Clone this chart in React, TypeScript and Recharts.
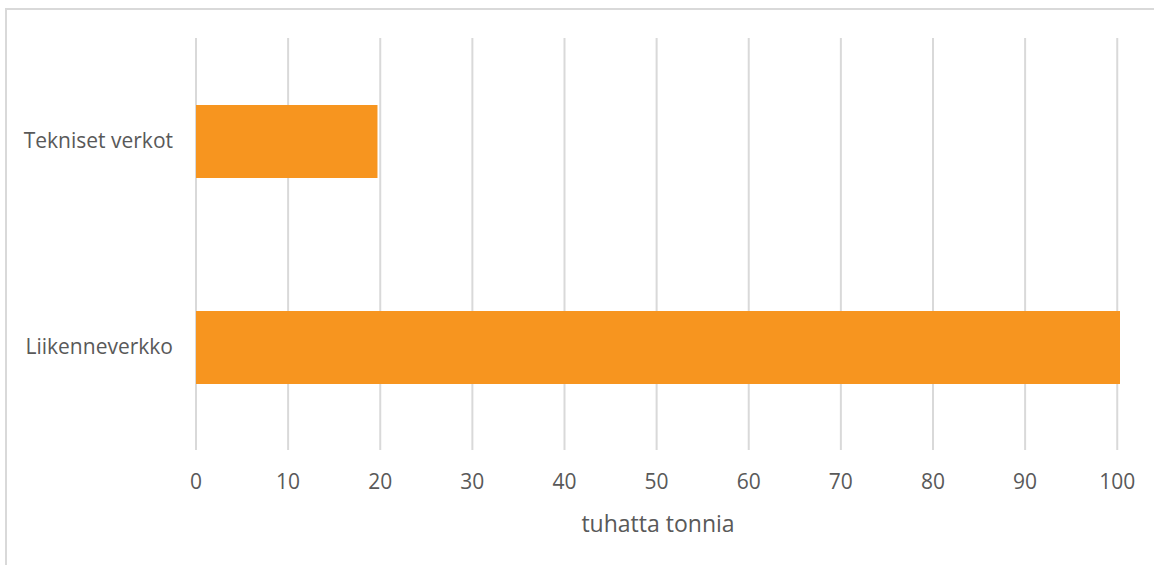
import React from 'react'
import { Bar, BarChart, CartesianGrid, Label, XAxis, YAxis } from 'recharts'

const categories = ['Tekniset verkot', 'Liikenneverkko']
const values = [19.7, 100.3]
const xTicks = [0, 10, 20, 30, 40, 50, 60, 70, 80, 90, 100]

const data = categories.map((name, i) => ({ name, value: values[i] }))

const font = '"Open Sans", sans-serif'
const textColor = '#595959'
const xMax = Math.max(...values)

// grid only at the tick values (domain runs to dataMax)
const gridX = ({ offset }: any) =>
  xTicks.map(t => offset.left + (t / xMax) * offset.width)

export default function App() {
  return (
    <div style={{ position: 'absolute', left: 0, top: 0, width: 1154, height: 565, background: '#fff' }}>
      <div
        style={{
          position: 'absolute',
          left: 5,
          top: 8,
          width: 1149,
          height: 557,
          borderTop: '2px solid #d9d9d9',
          borderLeft: '2px solid #d9d9d9',
        }}
      />
      <BarChart
        width={1154}
        height={565}
        data={data}
        layout="vertical"
        margin={{ top: 38, right: 34, left: 0, bottom: 0 }}
        barSize={73}
        style={{ position: 'absolute', left: 0, top: 0, fontFamily: font }}
      >
        <CartesianGrid
          horizontal={false}
          stroke="#d9d9d9"
          strokeWidth={2}
          verticalCoordinatesGenerator={gridX}
        />
        <XAxis
          type="number"
          domain={[0, 'dataMax']}
          ticks={xTicks}
          interval={0}
          height={115}
          axisLine={false}
          tickLine={false}
          tickSize={0}
          tickMargin={24}
          tick={{ fill: textColor, fontSize: 21, fontFamily: font }}
        >
          <Label
            value="tuhatta tonnia"
            position="insideBottom"
            offset={33}
            fill={textColor}
            fontSize={23}
            fontFamily={font}
          />
        </XAxis>
        <YAxis
          type="category"
          dataKey="name"
          width={196}
          axisLine={false}
          tickLine={false}
          tickSize={0}
          tickMargin={23}
          tick={{ fill: textColor, fontSize: 21, fontFamily: font }}
        />
        <Bar dataKey="value" fill="#F7951F" isAnimationActive={false} />
      </BarChart>
    </div>
  )
}
